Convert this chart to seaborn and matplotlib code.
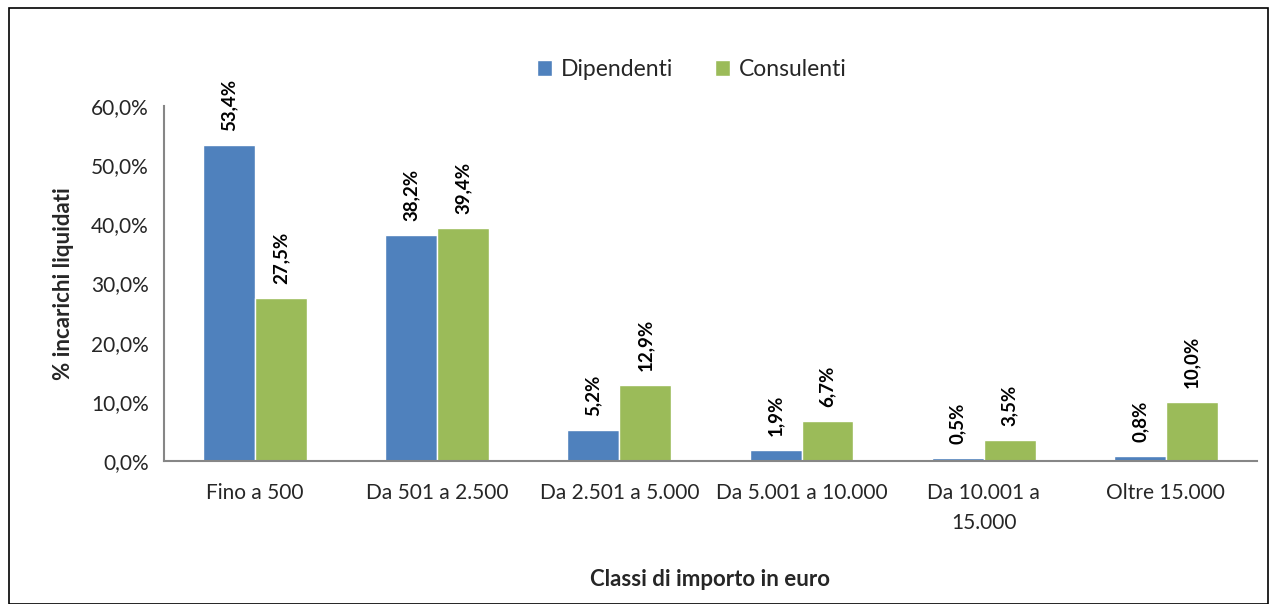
import numpy as np
import pandas as pd
import seaborn as sns
from matplotlib import pyplot as plt
from matplotlib.patches import Rectangle

# data
classes = ["Fino a 500", "Da 501 a 2.500", "Da 2.501 a 5.000", "Da 5.001 a 10.000",
           "Da 10.001 a\n15.000", "Oltre 15.000"]
dipendenti = [53.4, 38.2, 5.2, 1.9, 0.5, 0.8]
consulenti = [27.5, 39.4, 12.9, 6.7, 3.5, 10.0]
series_names = ["Dipendenti", "Consulenti"]

df = pd.DataFrame({
    "classe": classes * 2,
    "valore": dipendenti + consulenti,
    "serie": [series_names[0]] * len(classes) + [series_names[1]] * len(classes),
})

sns.set_style("white")
plt.rcParams['font.family'] = ['Lato', 'DejaVu Sans']

fig = plt.figure(figsize=(12.77, 6.04), dpi=100)
ax = fig.add_axes([0.1284, 0.2368, 0.9843 - 0.1284, 0.8245 - 0.2368])

sns.barplot(data=df, x="classe", y="valore", hue="serie", order=classes,
            hue_order=series_names, palette=["#4F81BD", "#9BBB59"],
            width=0.57, saturation=1, ax=ax, legend=True)

for cont in ax.containers:
    labels = [f"{v:.1f}%".replace(".", ",") for v in cont.datavalues]
    ax.bar_label(cont, labels=labels, rotation=90, padding=10,
                 fontsize=13.5, fontweight='bold', color='black')

ax.set_ylim(0, 60)
ax.set_xlim(-0.5, len(classes) - 0.5)
ax.set_yticks(np.arange(0, 61, 10))
ax.set_yticklabels([f"{t:.1f}%".replace(".", ",") for t in np.arange(0, 61, 10)], fontsize=15)
ax.set_xticks(range(len(classes)))
ax.set_xticklabels(classes, fontsize=15, linespacing=1.6)
ax.set_xticks(np.arange(-0.5, len(classes), 1), minor=True)
ax.tick_params(axis='x', which='major', length=0, pad=16)
ax.tick_params(axis='x', which='minor', length=7, color='#868686', width=1.2, direction='out')
ax.tick_params(axis='y', length=7, color='#868686', width=1.2, direction='out', pad=4)

for s in ["top", "right"]:
    ax.spines[s].set_visible(False)
for s in ["left", "bottom"]:
    ax.spines[s].set_color('#868686')
    ax.spines[s].set_linewidth(1.5)

ax.set_xlabel("Classi di importo in euro", fontsize=16, fontweight='bold', labelpad=26)
ax.set_ylabel("% incarichi liquidati", fontsize=16, fontweight='bold', labelpad=12)

ax.legend(loc='upper center', bbox_to_anchor=(0.483, 1.19), ncol=2, frameon=False,
          fontsize=16.5, handlelength=0.65, handleheight=0.65, columnspacing=1.8,
          handletextpad=0.4)

fig.patches.append(Rectangle((9 / 1277, 0), 1 - 18 / 1277, 1 - 8 / 604,
                             transform=fig.transFigure, fill=False,
                             edgecolor='black', linewidth=1.2))

fig.savefig("out.png", dpi=100)
